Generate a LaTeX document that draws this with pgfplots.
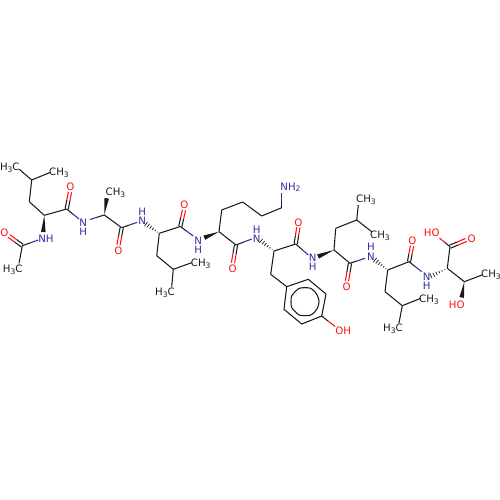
\documentclass[border=0pt]{standalone}
\usepackage{fontspec}
\setmainfont{DejaVu Sans}
\usepackage{pgfplots}
\pgfplotsset{compat=1.18}
\definecolor{nblue}{HTML}{2E2E9E}
\definecolor{ored}{HTML}{FF0D0D}
\definecolor{bk}{HTML}{1A1A1A}
\newcommand\bw{0.6pt}
\newcommand\bd[4]{\addplot[bk,line width=\bw] coordinates {(#1,#2)(#3,#4)};}
\newcommand\hb[5]{%
  \pgfmathsetmacro\mx{(#2+#4)/2}\pgfmathsetmacro\my{(#3+#5)/2}%
  \addplot[bk,line width=\bw] coordinates {(#2,#3)(\mx,\my)};
  \addplot[#1,line width=\bw] coordinates {(\mx,\my)(#4,#5)};}
\newcommand\dbo[4]{%
  \pgfmathsetmacro\dl{veclen(#3-#1,#4-#2)}%
  \pgfmathsetmacro\ox{1.6*(#4-#2)/\dl}\pgfmathsetmacro\oy{-1.6*(#3-#1)/\dl}%
  \pgfmathsetmacro\ax{#1+\ox}\pgfmathsetmacro\ay{#2+\oy}\pgfmathsetmacro\bx{#3+\ox}\pgfmathsetmacro\by{#4+\oy}%
  \pgfmathsetmacro\cx{#1-\ox}\pgfmathsetmacro\cy{#2-\oy}\pgfmathsetmacro\dx{#3-\ox}\pgfmathsetmacro\dy{#4-\oy}%
  \hb{ored}{\ax}{\ay}{\bx}{\by}
  \hb{ored}{\cx}{\cy}{\dx}{\dy}}
\newcommand\wg[4]{%
  \pgfmathsetmacro\dl{veclen(#3-#1,#4-#2)}%
  \pgfmathsetmacro\ox{2.3*(#4-#2)/\dl}\pgfmathsetmacro\oy{-2.3*(#3-#1)/\dl}%
  \pgfmathsetmacro\ax{#3+\ox}\pgfmathsetmacro\ay{#4+\oy}\pgfmathsetmacro\bx{#3-\ox}\pgfmathsetmacro\by{#4-\oy}%
  \addplot[fill=bk,draw=none] coordinates {(#1,#2)(\ax,\ay)(\bx,\by)} --cycle;}
% one rung of a hashed bond: fraction #5 of the way from the centre #1,#2 to #3,#4
\newcommand\rung[5]{%
  \pgfmathsetmacro\dl{veclen(#3-#1,#4-#2)}%
  \pgfmathsetmacro\px{#1+#5*(#3-#1)}\pgfmathsetmacro\py{#2+#5*(#4-#2)}%
  \pgfmathsetmacro\ox{2.6*#5*(#4-#2)/\dl}\pgfmathsetmacro\oy{-2.6*#5*(#3-#1)/\dl}%
  \pgfmathsetmacro\ax{\px+\ox}\pgfmathsetmacro\ay{\py+\oy}\pgfmathsetmacro\bx{\px-\ox}\pgfmathsetmacro\by{\py-\oy}%
  \addplot[bk,line width=0.4pt] coordinates {(\ax,\ay)(\bx,\by)};}
\newcommand\hs[4]{\rung{#1}{#2}{#3}{#4}{0.15}\rung{#1}{#2}{#3}{#4}{0.32}\rung{#1}{#2}{#3}{#4}{0.49}\rung{#1}{#2}{#3}{#4}{0.66}\rung{#1}{#2}{#3}{#4}{0.83}\rung{#1}{#2}{#3}{#4}{1.0}}
\newcommand\sub[1]{\raisebox{-0.35ex}{\fontsize{4.3}{4.3}\selectfont #1}}
\newcommand\lb[4]{\node[text=#1,inner sep=0pt,font=\fontsize{5.8}{6}\selectfont] at (axis cs:#2,#3) {#4};}
\begin{document}
\begin{tikzpicture}
\useasboundingbox (0,0) rectangle (10cm,10cm);
\begin{axis}[at={(0,0)},anchor=south west,scale only axis,width=10cm,height=10cm,
  xmin=0,xmax=500,ymin=0,ymax=500,y dir=reverse,hide axis,clip=false]
% --- residue 1: acetyl-Leu
\bd{19.3}{169.3}{31.7}{180}
\bd{31.7}{180}{50}{172.5}
\bd{31.7}{180}{29.3}{201.7}
\bd{29.3}{201.7}{44.3}{215.3}
\bd{44.3}{215.3}{66.7}{209}
\wg{44.3}{215.3}{43.3}{232}
\hb{nblue}{22.3}{245.7}{38.3}{240}
\dbo{22.3}{245.7}{9}{236}
\bd{22.3}{245.7}{19}{263.3}
\dbo{66.7}{209}{70}{192}
\hb{nblue}{66.7}{209}{79}{219}
% --- Ala
\hb{nblue}{104.3}{215}{90}{219.5}
\wg{104.3}{215}{106.7}{198.3}
\bd{104.3}{215}{121.7}{227.7}
\dbo{121.7}{227.7}{118.5}{245}
\hb{nblue}{121.7}{227.7}{137.3}{222.3}
\hs{159.6}{233.5}{146}{224}
% --- Leu 3
\bd{159.3}{233.3}{156.7}{255.7}
\bd{156.7}{255.7}{173.3}{269.3}
\bd{173.3}{269.3}{191.7}{262.7}
\bd{173.3}{269.3}{171.7}{286.7}
\bd{159.3}{233.3}{180.3}{226.5}
\dbo{180.3}{226.5}{184}{210}
\hb{nblue}{180.3}{226.5}{193.3}{236}
\wg{219}{231.7}{204.3}{237.7}
% --- Lys
\bd{219}{231.7}{221.7}{210}
\bd{221.7}{210}{242.7}{202}
\bd{242.7}{202}{261.7}{216}
\bd{261.7}{216}{281.7}{207.7}
\hb{nblue}{281.7}{207.7}{281.7}{193.5}
\bd{219}{231.7}{236}{245}
\dbo{236}{245}{233}{263}
\hb{nblue}{236}{245}{251.7}{239}
\hs{274}{251}{261}{241}
% --- Tyr
\bd{274}{251}{295.7}{244}
\dbo{295.7}{244}{298.3}{227.5}
\hb{nblue}{295.7}{244}{308.3}{255}
\wg{334}{250}{318}{256.5}
\bd{274}{251}{270.7}{274.3}
\bd{270.7}{274.3}{286.7}{286.7}
\addplot[bk,line width=\bw] coordinates {(286.7,286.7)(308.3,279.3)(326,294)(321.7,316)(301.7,324)(284,309.3)(286.7,286.7)};
\addplot[bk,line width=\bw,smooth,tension=1] coordinates {(319,301.7)(315,311.6)(305,315.7)(295.1,311.6)(291,301.7)(295.1,291.8)(305,287.7)(314.9,291.8)(319,301.7)};
\hb{ored}{321.7}{316}{335}{326.5}
% --- Leu 6
\bd{334}{250}{335.7}{228.3}
\bd{335.7}{228.3}{356.7}{220}
\bd{356.7}{220}{358.3}{205}
\bd{356.7}{220}{371.7}{231.7}
\bd{334}{250}{350}{263.3}
\dbo{350}{263.3}{347}{281}
\hb{nblue}{350}{263.3}{365}{258.3}
\hs{387.7}{270}{375}{260}
% --- Leu 7
\bd{387.7}{270}{409}{261.7}
\dbo{409}{261.7}{412}{246}
\bd{387.7}{270}{385}{291.7}
\bd{385}{291.7}{402.3}{305.7}
\bd{402.3}{305.7}{420.7}{298.3}
\bd{402.3}{305.7}{399}{323}
\hb{nblue}{409}{261.7}{421.7}{271.7}
\hs{447.3}{268.3}{431}{276}
% --- Thr
\bd{447.3}{268.3}{450}{246.7}
\dbo{450}{246.7}{466}{240}
\hb{ored}{450}{246.7}{439.5}{238}
\bd{447.3}{268.3}{464.3}{281.7}
\bd{464.3}{281.7}{482}{275}
\wg{464.3}{281.7}{461.7}{297.5}
% --- atom labels
\lb{bk}{9.8}{168}{H\sub{3}C}
\lb{bk}{59}{173}{CH\sub{3}}
\lb{nblue}{46}{238.3}{NH}
\lb{ored}{4.5}{232.7}{O}
\lb{bk}{12.7}{269.3}{H\sub{3}C}
\lb{ored}{70.3}{187}{O}
\lb{nblue}{83.3}{223}{N}
\lb{nblue}{83.3}{232}{H}
\lb{bk}{115.5}{193}{CH\sub{3}}
\lb{ored}{118.3}{250.7}{O}
\lb{nblue}{142.3}{220.7}{N}
\lb{nblue}{142.3}{211.5}{H}
\lb{bk}{200.7}{263.3}{CH\sub{3}}
\lb{bk}{165}{292.7}{H\sub{3}C}
\lb{ored}{184.3}{204.3}{O}
\lb{nblue}{198.3}{240.5}{N}
\lb{nblue}{198.3}{249.3}{H}
\lb{nblue}{290.5}{187.3}{NH\sub{2}}
\lb{ored}{232.7}{268.3}{O}
\lb{nblue}{256.7}{239}{N}
\lb{nblue}{256.7}{229.5}{H}
\lb{ored}{298.3}{222.7}{O}
\lb{nblue}{312.7}{257.3}{N}
\lb{nblue}{312.7}{267}{H}
\lb{ored}{343.3}{330.7}{OH}
\lb{bk}{366}{200}{CH\sub{3}}
\lb{bk}{380}{236}{CH\sub{3}}
\lb{ored}{346.7}{286.7}{O}
\lb{nblue}{371}{256.7}{N}
\lb{nblue}{371}{247}{H}
\lb{ored}{412.3}{240.7}{O}
\lb{bk}{429}{300}{CH\sub{3}}
\lb{bk}{393}{329}{H\sub{3}C}
\lb{nblue}{426.7}{276.7}{N}
\lb{nblue}{426.7}{285.7}{H}
\lb{ored}{431.7}{232.7}{HO}
\lb{ored}{471.7}{238.5}{O}
\lb{bk}{491}{275}{CH\sub{3}}
\lb{ored}{456.7}{304.3}{HO}
\end{axis}
\end{tikzpicture}
\end{document}
